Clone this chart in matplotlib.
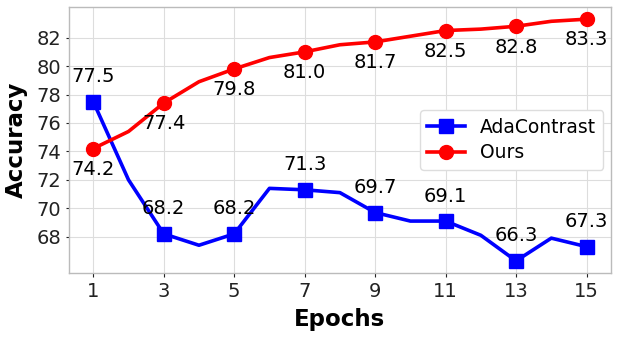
import matplotlib
matplotlib.use("Agg")
import matplotlib.pyplot as plt

epochs = list(range(1, 16))
ada_values = [77.5, 72.0, 68.2, 67.4, 68.2, 71.4, 71.3, 71.1, 69.7, 69.1, 69.1, 68.1, 66.3, 67.9, 67.3]
ours_values = [74.2, 75.4, 77.4, 78.9, 79.8, 80.6, 81.0, 81.5, 81.7, 82.1, 82.5, 82.6, 82.8, 83.15, 83.3]
xticks = [1, 3, 5, 7, 9, 11, 13, 15]
yticks = [68, 70, 72, 74, 76, 78, 80, 82]

fig = plt.figure(figsize=(6.18, 3.37), dpi=100)
ax = fig.add_axes([0.111, 0.190, 0.878, 0.789])

mark_idx = list(range(0, 15, 2))
ax.plot(epochs, ada_values, color='blue', lw=2.6, marker='s', markersize=10,
        markevery=mark_idx, label='AdaContrast', zorder=3)
ax.plot(epochs, ours_values, color='red', lw=2.6, marker='o', markersize=10,
        markevery=mark_idx, label='Ours', zorder=3)

for i in mark_idx:
    ax.annotate(f"{ada_values[i]:.1f}", (epochs[i], ada_values[i]), xytext=(0, 18),
                textcoords='offset points', ha='center', va='center', fontsize=14)
    ax.annotate(f"{ours_values[i]:.1f}", (epochs[i], ours_values[i]), xytext=(0, -15),
                textcoords='offset points', ha='center', va='center', fontsize=14)

ax.set_xticks(xticks)
ax.set_yticks(yticks)
ax.tick_params(labelsize=14, colors='#222222', length=3, width=0.8)
ax.tick_params(axis='y', length=2)
ax.grid(True, color='#dddddd', lw=0.8)
ax.set_axisbelow(True)
for s in ax.spines.values():
    s.set_color('#bbbbbb')
    s.set_linewidth(1.0)

ax.set_xlabel('Epochs', fontsize=16.5, fontweight='bold', labelpad=5)
ax.set_ylabel('Accuracy', fontsize=16.5, fontweight='bold', labelpad=6)

ax.legend(loc='center right', fontsize=13.5, bbox_to_anchor=(1.003, 0.5),
          framealpha=1, edgecolor='#dddddd', fancybox=True, handlelength=2,
          labelspacing=0.35)

fig.savefig('out.png', dpi=100)
